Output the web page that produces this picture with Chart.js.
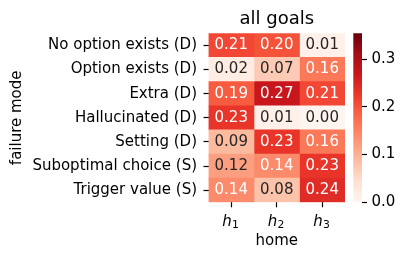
<!DOCTYPE html>
<html>
<head>
<meta charset="utf-8">
<script src="https://cdn.jsdelivr.net/npm/chart.js@4"></script>
<style>
  body { margin: 0; background: #fff; }
  #wrap { position: relative; width: 407px; height: 260px; }
  #heat { position: absolute; left: 0; top: 0; }
  #cbar { position: absolute; left: 340px; top: 0; }
</style>
</head>
<body>
<div id="wrap">
  <canvas id="heat" width="407" height="260"></canvas>
  <canvas id="cbar" width="67" height="260"></canvas>
</div>
<script>
"use strict";

const failureModes = [
  "No option exists (D)",
  "Option exists (D)",
  "Extra (D)",
  "Hallucinated (D)",
  "Setting (D)",
  "Suboptimal choice (S)",
  "Trigger value (S)",
];
// tick labels h_1, h_2, h_3 (letter + subscript)
const homeLabels = ["h_1", "h_2", "h_3"];

const h1Values = [0.21, 0.02, 0.19, 0.23, 0.09, 0.12, 0.14];
const h2Values = [0.20, 0.07, 0.27, 0.01, 0.23, 0.14, 0.08];
const h3Values = [0.01, 0.16, 0.21, 0.00, 0.16, 0.23, 0.24];
const columns = [h1Values, h2Values, h3Values];

const colorMin = 0;
const colorMax = 0.354;
const colorbarTicks = [0, 0.1, 0.2, 0.3];

// matplotlib "Reds"
const reds = [
  [255, 245, 240], [254, 224, 210], [252, 187, 161], [252, 146, 114],
  [251, 106, 74], [239, 59, 44], [203, 24, 29], [165, 15, 21], [103, 0, 13],
];

function redsRgb(t) {
  t = Math.max(0, Math.min(1, t));
  const pos = t * (reds.length - 1);
  const i = Math.min(Math.floor(pos), reds.length - 2);
  const f = pos - i;
  return reds[i].map((c, k) => Math.round(c + (reds[i + 1][k] - c) * f));
}

function valueColor(v) {
  const rgb = redsRgb((v - colorMin) / (colorMax - colorMin));
  return "rgb(" + rgb.join(",") + ")";
}

function textColor(v) {
  const rgb = redsRgb((v - colorMin) / (colorMax - colorMin));
  const lin = rgb.map((c) => {
    c = c / 255;
    return c <= 0.03928 ? c / 12.92 : Math.pow((c + 0.055) / 1.055, 2.4);
  });
  const lum = 0.2126 * lin[0] + 0.7152 * lin[1] + 0.0722 * lin[2];
  return lum > 0.408 ? "#262626" : "#ffffff";
}

const fontFamily = "'DejaVu Sans', sans-serif";
Chart.defaults.font.family = fontFamily;
Chart.defaults.font.size = 15;
Chart.defaults.color = "#000";
Chart.defaults.animation = false;

// cell numbers
const annotPlugin = {
  id: "annot",
  afterDatasetsDraw(chart) {
    const ctx = chart.ctx;
    ctx.save();
    ctx.font = "15px " + fontFamily;
    ctx.textAlign = "center";
    ctx.textBaseline = "middle";
    chart.data.datasets.forEach((ds, j) => {
      chart.getDatasetMeta(j).data.forEach((bar, i) => {
        const v = columns[j][i];
        const p = bar.getCenterPoint();
        ctx.fillStyle = textColor(v);
        ctx.fillText(v.toFixed(2), p.x, p.y);
      });
    });
    ctx.restore();
  },
};

// x tick labels with a real subscript
const subLabelPlugin = {
  id: "subLabels",
  afterDraw(chart) {
    const xs = chart.scales.x;
    const ctx = chart.ctx;
    ctx.save();
    ctx.fillStyle = "#000";
    ctx.textAlign = "left";
    ctx.textBaseline = "alphabetic";
    xs.ticks.forEach((t) => {
      const parts = homeLabels[Math.floor(t.value)].split("_");
      ctx.font = "italic 15px " + fontFamily;
      const wBase = ctx.measureText(parts[0]).width;
      ctx.font = "10.8px " + fontFamily;
      const wSub = ctx.measureText(parts[1]).width;
      const x0 = xs.getPixelForValue(t.value) - (wBase + wSub) / 2 - 0.8;
      const baseY = xs.top + 23.4;
      ctx.font = "italic 15px " + fontFamily;
      ctx.fillText(parts[0], x0, baseY);
      ctx.font = "10.8px " + fontFamily;
      ctx.fillText(parts[1], x0 + wBase + 0.3, baseY + 2.6);
    });
    ctx.restore();
  },
};

const datasets = [];
for (let j = 0; j < columns.length; j++) {
  datasets.push({
    label: homeLabels[j],
    data: columns[j].map(() => [j, j + 1]),
    backgroundColor: columns[j].map(valueColor),
    borderWidth: 0,
    barPercentage: 1,
    categoryPercentage: 1,
    grouped: false,
  });
}

new Chart(document.getElementById("heat"), {
  type: "bar",
  data: { labels: failureModes, datasets: datasets },
  options: {
    responsive: false,
    indexAxis: "y",
    layout: { padding: { left: 0, right: 62, top: 0, bottom: 0 } },
    plugins: {
      legend: { display: false },
      tooltip: { enabled: false },
      title: {
        display: true,
        text: "all goals",
        fullSize: false,
        font: { size: 18, weight: "normal" },
        color: "#000",
        padding: { top: 8.7, bottom: 3 },
      },
    },
    scales: {
      x: {
        type: "linear",
        min: 0,
        max: columns.length,
        afterBuildTicks: (s) => {
          s.ticks = homeLabels.map((l, j) => ({ value: j + 0.5 }));
        },
        afterFit: (s) => {
          s.height = 57.7;
        },
        ticks: {
          autoSkip: false,
          maxRotation: 0,
          callback: () => "",
        },
        grid: {
          drawOnChartArea: false,
          drawTicks: true,
          tickLength: 5,
          tickWidth: 1.2,
          tickColor: "#000",
        },
        border: { display: false },
        title: {
          display: true,
          text: "home",
          padding: { top: 0, bottom: 10 },
        },
      },
      y: {
        afterFit: (s) => {
          s.width = 208.5;
        },
        ticks: { padding: 6.5, autoSkip: false },
        grid: {
          offset: false,
          drawOnChartArea: false,
          drawTicks: true,
          tickLength: 5,
          tickWidth: 1.2,
          tickColor: "#000",
        },
        border: { display: false },
        title: {
          display: true,
          text: "failure mode",
          padding: { top: 8, bottom: 0 },
        },
      },
    },
  },
  plugins: [annotPlugin, subLabelPlugin],
});

// colorbar
new Chart(document.getElementById("cbar"), {
  type: "bar",
  data: {
    labels: [""],
    datasets: [{
      data: [[colorMin, colorMax]],
      backgroundColor: (c) => {
        const chart = c.chart;
        if (!chart.chartArea) return null;
        const ys = chart.scales.y;
        const g = chart.ctx.createLinearGradient(0, ys.getPixelForValue(colorMin), 0, ys.getPixelForValue(colorMax));
        for (let i = 0; i < reds.length; i++) {
          g.addColorStop(i / (reds.length - 1), "rgb(" + reds[i].join(",") + ")");
        }
        return g;
      },
      borderWidth: 0,
      barPercentage: 1,
      categoryPercentage: 1,
    }],
  },
  options: {
    responsive: false,
    layout: { padding: { left: 13.3, right: 0, top: 33.3, bottom: 57.7 } },
    plugins: { legend: { display: false }, tooltip: { enabled: false } },
    scales: {
      x: { display: false },
      y: {
        position: "right",
        min: colorMin,
        max: colorMax,
        afterBuildTicks: (s) => {
          s.ticks = colorbarTicks.map((v) => ({ value: v }));
        },
        afterFit: (s) => {
          s.width = 45;
        },
        ticks: {
          padding: 4.5,
          callback: (v) => v.toFixed(1),
        },
        grid: {
          drawOnChartArea: false,
          drawTicks: true,
          tickLength: 5,
          tickWidth: 1.2,
          tickColor: "#000",
        },
        border: { display: false },
      },
    },
  },
});
</script>
</body>
</html>
